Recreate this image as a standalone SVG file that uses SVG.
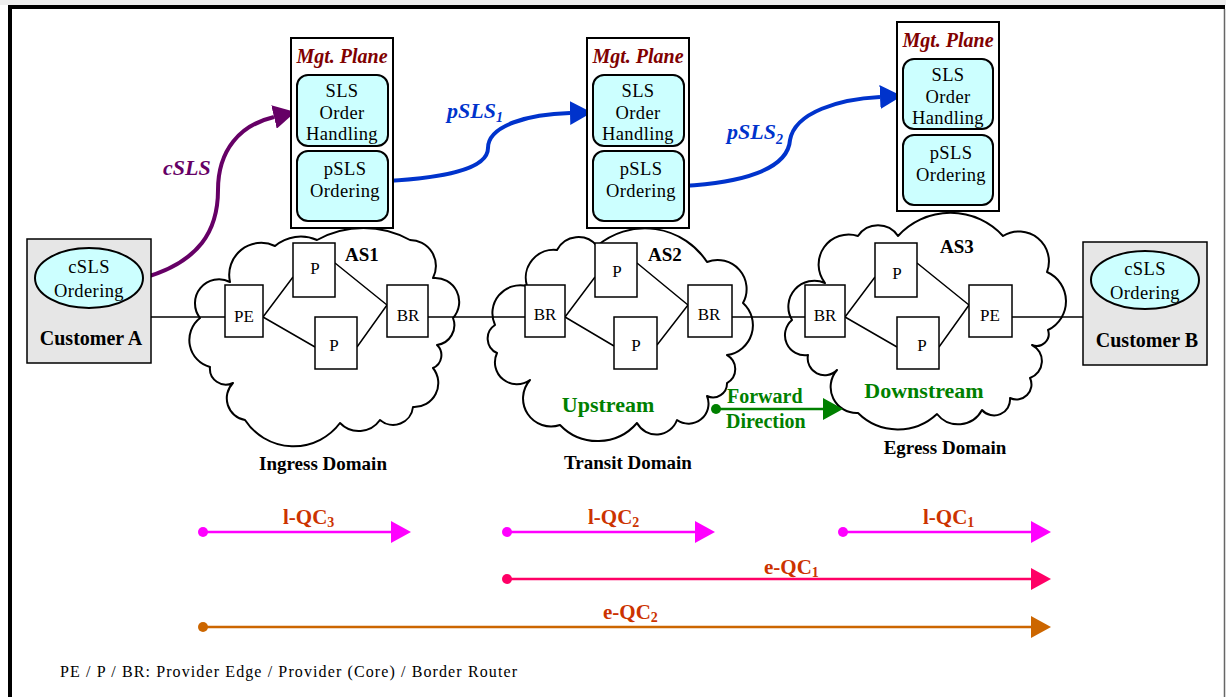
<svg xmlns="http://www.w3.org/2000/svg" width="1226" height="697" viewBox="0 0 1226 697">
  <style>
    text { font-family: "Liberation Serif", "Times New Roman", serif; fill: #000; }
    .mgt { fill: #fff; stroke: #000; stroke-width: 2; }
    .mgt-title { font-size: 20px; font-weight: bold; font-style: italic; fill: #800000; text-anchor: middle; }
    .fn { fill: #ccffff; stroke: #000; stroke-width: 2; }
    .fn-text { font-size: 18.5px; letter-spacing: 0.4px; text-anchor: middle; }
    .cloud { fill: #fff; stroke: #000; stroke-width: 2; stroke-linejoin: round; }
    .router { fill: #fff; stroke: #000; stroke-width: 1.5; }
    .router-text { font-size: 17px; text-anchor: middle; }
    .as { font-size: 19px; font-weight: bold; }
    .cust { fill: #e6e6e6; stroke: #000; stroke-width: 1.5; }
    .cust-name { font-size: 20px; font-weight: bold; text-anchor: middle; }
    .domain { font-size: 19px; font-weight: bold; text-anchor: middle; }
    .role { font-size: 22px; font-weight: bold; fill: #008000; text-anchor: middle; }
    .fwd { font-size: 20px; font-weight: bold; fill: #008000; }
    .link { stroke: #000; stroke-width: 1.5; fill: none; }
    .sig { font-size: 22px; font-weight: bold; font-style: italic; }
    .qc { font-size: 21px; font-weight: bold; fill: #cc3300; }
    .sub { font-size: 14px; }
    .note { font-size: 16px; }
  </style>
  <defs>
    <marker id="headPurple" viewBox="0 -12 22 24" refX="0" refY="0" markerWidth="22" markerHeight="24" markerUnits="userSpaceOnUse" orient="auto">
      <path d="M0,-12 L22,0 L0,12 Z" fill="#660066"/>
    </marker>
    <marker id="headBlue" viewBox="0 -12 22 24" refX="0" refY="0" markerWidth="22" markerHeight="24" markerUnits="userSpaceOnUse" orient="auto">
      <path d="M0,-12 L22,0 L0,12 Z" fill="#0033cc"/>
    </marker>
    <marker id="headGreen" viewBox="0 -11 20 22" refX="0" refY="0" markerWidth="20" markerHeight="22" markerUnits="userSpaceOnUse" orient="auto">
      <path d="M0,-11 L20,0 L0,11 Z" fill="#008000"/>
    </marker>
    <marker id="headMagenta" viewBox="0 -11 20 22" refX="0" refY="0" markerWidth="20" markerHeight="22" markerUnits="userSpaceOnUse" orient="auto">
      <path d="M0,-11 L20,0 L0,11 Z" fill="#ff00ff"/>
    </marker>
    <marker id="headPink" viewBox="0 -11 20 22" refX="0" refY="0" markerWidth="20" markerHeight="22" markerUnits="userSpaceOnUse" orient="auto">
      <path d="M0,-11 L20,0 L0,11 Z" fill="#ff0066"/>
    </marker>
    <marker id="headOrange" viewBox="0 -11 20 22" refX="0" refY="0" markerWidth="20" markerHeight="22" markerUnits="userSpaceOnUse" orient="auto">
      <path d="M0,-11 L20,0 L0,11 Z" fill="#cc6600"/>
    </marker>
  </defs>

  <!-- page frame -->
  <rect x="0" y="0" width="1226" height="5" fill="#eeeeee"/>
  <rect x="8" y="5" width="1218" height="692" fill="#fff"/>
  <line x1="8" y1="7" x2="1225" y2="7" stroke="#000" stroke-width="4"/>
  <line x1="10" y1="5" x2="10" y2="697" stroke="#000" stroke-width="4"/>
  <line x1="1224.5" y1="9" x2="1224.5" y2="697" stroke="#666" stroke-width="1.5"/>

  <!-- AS clouds -->
  <g id="cloud-as1">
    <path class="cloud" d="M200,318 A24 24 0 0 1 230,282 A32 32 0 0 1 275,246 A40 40 0 0 1 317,240 A96 96 0 0 1 410,240 A26 26 0 0 1 433,278 A24 24 0 0 1 453,318 A20 20 0 0 1 437,345 A14 14 0 0 1 433,368 A24 24 0 0 1 413,407 A20 20 0 0 1 380,420 A26 26 0 0 1 340,423 A58 58 0 0 1 245,420 A22 22 0 0 1 233,383 A16 16 0 0 1 210,367 A28 28 0 0 1 200,318 Z"/>
  </g>
  <g id="cloud-as2">
    <path class="cloud" d="M495,325 A28 28 0 0 1 527,286 A28 28 0 0 1 557,250 A24 24 0 0 1 597,246 A74 74 0 0 1 707,262 A29 29 0 0 1 743,303 A30 30 0 0 1 727,355 A16 16 0 0 1 727,383 A14 14 0 0 1 707,396 A20 20 0 0 1 677,420 A22 22 0 0 1 637,423 A52 52 0 0 1 560,425 A28 28 0 0 1 530,380 A22 22 0 0 1 497,353 A16 16 0 0 1 495,325 Z"/>
  </g>
  <g id="cloud-as3">
    <path class="cloud" d="M792,320 A26 26 0 0 1 825,283 A30 30 0 0 1 858,236 A24 24 0 0 1 898,236 A71 71 0 0 1 1003,236 A30 30 0 0 1 1047,272 A32 32 0 0 1 1048,330 A12 12 0 0 1 1032,345 A18 18 0 0 1 1030,378 A15 15 0 0 1 1010,398 A16 16 0 0 1 982,410 A27 27 0 0 1 937,414 A57 57 0 0 1 858,413 A26 26 0 0 1 837,370 A17 17 0 0 1 808,355 A20 20 0 0 1 792,320 Z"/>
  </g>

  <!-- connectors -->
  <g id="connectors">
    <!-- access and inter-domain links -->
    <line class="link" x1="151" y1="317" x2="225" y2="317"/>
    <line class="link" x1="428" y1="317" x2="525" y2="317"/>
    <line class="link" x1="732" y1="317" x2="805" y2="317"/>
    <line class="link" x1="1012" y1="317" x2="1083" y2="317"/>
    <!-- AS1 internal links -->
    <path class="link" d="M263,317 L293,277 M263,317 L315,347 M335,263 L387,305 M357,347 L387,305"/>
    <!-- AS2 internal links -->
    <path class="link" d="M565,317 L595,277 M565,317 L614,346 M637,263 L688,305 M657,345 L688,305"/>
    <!-- AS3 internal links -->
    <path class="link" d="M845,317 L875,277 M845,317 L897,347 M917,263 L969,305 M939,347 L969,305"/>

    <!-- SLS signalling -->
    <path d="M143,278 C200,262 218,230 218,190 C218,150 240,125 274,117" fill="none" stroke="#660066" stroke-width="4" marker-end="url(#headPurple)"/>
    <circle cx="143" cy="278" r="5" fill="#660066"/>
    <path d="M387,181 C440,178 488,170 488,148 C488,125 530,114 570,113" fill="none" stroke="#0033cc" stroke-width="4" marker-end="url(#headBlue)"/>
    <circle cx="387" cy="181" r="5" fill="#0033cc"/>
    <path d="M683,186 C740,183 788,170 790,140 C795,112 840,99 880,97" fill="none" stroke="#0033cc" stroke-width="4" marker-end="url(#headBlue)"/>
    <circle cx="683" cy="186" r="5" fill="#0033cc"/>

    <!-- forward direction -->
    <line x1="715" y1="409" x2="823" y2="409" stroke="#008000" stroke-width="2.5" marker-end="url(#headGreen)"/>
    <circle cx="716" cy="409" r="5" fill="#008000"/>

    <!-- QoS classes -->
    <line x1="203" y1="532" x2="391" y2="532" stroke="#ff00ff" stroke-width="2.5" marker-end="url(#headMagenta)"/>
    <circle cx="203" cy="532" r="5" fill="#ff00ff"/>
    <line x1="507" y1="532" x2="695" y2="532" stroke="#ff00ff" stroke-width="2.5" marker-end="url(#headMagenta)"/>
    <circle cx="507" cy="532" r="5" fill="#ff00ff"/>
    <line x1="843" y1="532" x2="1031" y2="532" stroke="#ff00ff" stroke-width="2.5" marker-end="url(#headMagenta)"/>
    <circle cx="843" cy="532" r="5" fill="#ff00ff"/>
    <line x1="507" y1="579" x2="1031" y2="579" stroke="#ff0066" stroke-width="2.5" marker-end="url(#headPink)"/>
    <circle cx="507" cy="579" r="5" fill="#ff0066"/>
    <line x1="203" y1="627" x2="1031" y2="627" stroke="#cc6600" stroke-width="2.5" marker-end="url(#headOrange)"/>
    <circle cx="203" cy="627" r="5" fill="#cc6600"/>
  </g>

  <!-- management planes -->
  <g id="mgt-as1">
    <rect class="mgt" x="291" y="38" width="102" height="190"/>
    <text class="mgt-title" x="342" y="63">Mgt. Plane</text>
    <rect class="fn" x="297" y="75" width="91" height="71" rx="11"/>
    <text class="fn-text"><tspan x="342" y="97">SLS</tspan><tspan x="342" y="118.5">Order</tspan><tspan x="342" y="140">Handling</tspan></text>
    <rect class="fn" x="297" y="151" width="91" height="70" rx="11"/>
    <text class="fn-text"><tspan x="345" y="175">pSLS</tspan><tspan x="345" y="197">Ordering</tspan></text>
  </g>
  <g id="mgt-as2">
    <rect class="mgt" x="587" y="38" width="102" height="190"/>
    <text class="mgt-title" x="638" y="63">Mgt. Plane</text>
    <rect class="fn" x="593" y="75" width="91" height="71" rx="11"/>
    <text class="fn-text"><tspan x="638" y="97">SLS</tspan><tspan x="638" y="118.5">Order</tspan><tspan x="638" y="140">Handling</tspan></text>
    <rect class="fn" x="593" y="151" width="91" height="70" rx="11"/>
    <text class="fn-text"><tspan x="641" y="175">pSLS</tspan><tspan x="641" y="197">Ordering</tspan></text>
  </g>
  <g id="mgt-as3">
    <rect class="mgt" x="897" y="22" width="102" height="189"/>
    <text class="mgt-title" x="948" y="47">Mgt. Plane</text>
    <rect class="fn" x="903" y="59" width="90" height="70" rx="11"/>
    <text class="fn-text"><tspan x="948" y="81">SLS</tspan><tspan x="948" y="102.5">Order</tspan><tspan x="948" y="124">Handling</tspan></text>
    <rect class="fn" x="903" y="135" width="90" height="70" rx="11"/>
    <text class="fn-text"><tspan x="951" y="159">pSLS</tspan><tspan x="951" y="181">Ordering</tspan></text>
  </g>

  <!-- signalling labels -->
  <text class="sig" x="163" y="175" style="fill:#660066">cSLS</text>
  <text class="sig" x="447" y="118" style="fill:#0033cc">pSLS<tspan class="sub" dy="4">1</tspan></text>
  <text class="sig" x="727" y="139" style="fill:#0033cc">pSLS<tspan class="sub" dy="5">2</tspan></text>

  <!-- customers -->
  <g id="customer-a">
    <rect class="cust" x="27" y="239" width="124" height="124"/>
    <ellipse class="fn" cx="89" cy="278" rx="54" ry="30" stroke-width="1.5"/>
    <text class="fn-text"><tspan x="89" y="273">cSLS</tspan><tspan x="89" y="297">Ordering</tspan></text>
    <text class="cust-name" x="91" y="345">Customer A</text>
  </g>
  <g id="customer-b">
    <rect class="cust" x="1083" y="242" width="124" height="123"/>
    <ellipse class="fn" cx="1145" cy="280" rx="54" ry="29" stroke-width="1.5"/>
    <text class="fn-text"><tspan x="1145" y="275">cSLS</tspan><tspan x="1145" y="299">Ordering</tspan></text>
    <text class="cust-name" x="1147" y="347">Customer B</text>
  </g>

  <!-- routers: ingress domain -->
  <g id="as1">
    <text class="as" x="345" y="261">AS1</text>
    <g id="as1-pe"><rect class="router" x="225" y="285" width="38" height="52"/><text class="router-text" x="244" y="322">PE</text></g>
    <g id="as1-p1"><rect class="router" x="293" y="243" width="42" height="54"/><text class="router-text" x="315" y="274">P</text></g>
    <g id="as1-p2"><rect class="router" x="315" y="317" width="42" height="52"/><text class="router-text" x="334" y="351">P</text></g>
    <g id="as1-br"><rect class="router" x="387" y="285" width="41" height="52"/><text class="router-text" x="408" y="321">BR</text></g>
    <text class="domain" x="323" y="470">Ingress Domain</text>
  </g>
  <!-- routers: transit domain -->
  <g id="as2">
    <text class="as" x="648" y="261">AS2</text>
    <g id="as2-br1"><rect class="router" x="525" y="285" width="40" height="52"/><text class="router-text" x="545" y="320">BR</text></g>
    <g id="as2-p1"><rect class="router" x="595" y="243" width="42" height="54"/><text class="router-text" x="617" y="277">P</text></g>
    <g id="as2-p2"><rect class="router" x="614" y="317" width="43" height="52"/><text class="router-text" x="636" y="351">P</text></g>
    <g id="as2-br2"><rect class="router" x="688" y="285" width="44" height="52"/><text class="router-text" x="709" y="320">BR</text></g>
    <text class="role" x="608" y="412">Upstream</text>
    <text class="domain" x="628" y="469">Transit Domain</text>
  </g>
  <!-- routers: egress domain -->
  <g id="as3">
    <text class="as" x="940" y="253">AS3</text>
    <g id="as3-br"><rect class="router" x="805" y="285" width="40" height="52"/><text class="router-text" x="825" y="321">BR</text></g>
    <g id="as3-p1"><rect class="router" x="875" y="243" width="42" height="54"/><text class="router-text" x="897" y="279">P</text></g>
    <g id="as3-p2"><rect class="router" x="897" y="317" width="42" height="52"/><text class="router-text" x="922" y="351">P</text></g>
    <g id="as3-pe"><rect class="router" x="969" y="285" width="43" height="52"/><text class="router-text" x="990" y="321">PE</text></g>
    <text class="role" x="924" y="398">Downstream</text>
    <text class="domain" x="945" y="454">Egress Domain</text>
  </g>

  <!-- forward direction label -->
  <g id="forward-label">
    <text class="fwd"><tspan x="727" y="403">Forward</tspan><tspan x="726" y="428">Direction</tspan></text>
  </g>

  <!-- QoS class labels -->
  <g id="qc-labels">
    <text class="qc" x="283" y="524">l-QC<tspan class="sub" dy="3">3</tspan></text>
    <text class="qc" x="588" y="524">l-QC<tspan class="sub" dy="3">2</tspan></text>
    <text class="qc" x="923" y="524">l-QC<tspan class="sub" dy="3">1</tspan></text>
    <text class="qc" x="764" y="574">e-QC<tspan class="sub" dy="3">1</tspan></text>
    <text class="qc" x="603" y="619">e-QC<tspan class="sub" dy="3">2</tspan></text>
  </g>

  <text class="note" x="60" y="677" textLength="457" lengthAdjust="spacing">PE / P / BR: Provider Edge / Provider (Core) / Border Router</text>
</svg>
